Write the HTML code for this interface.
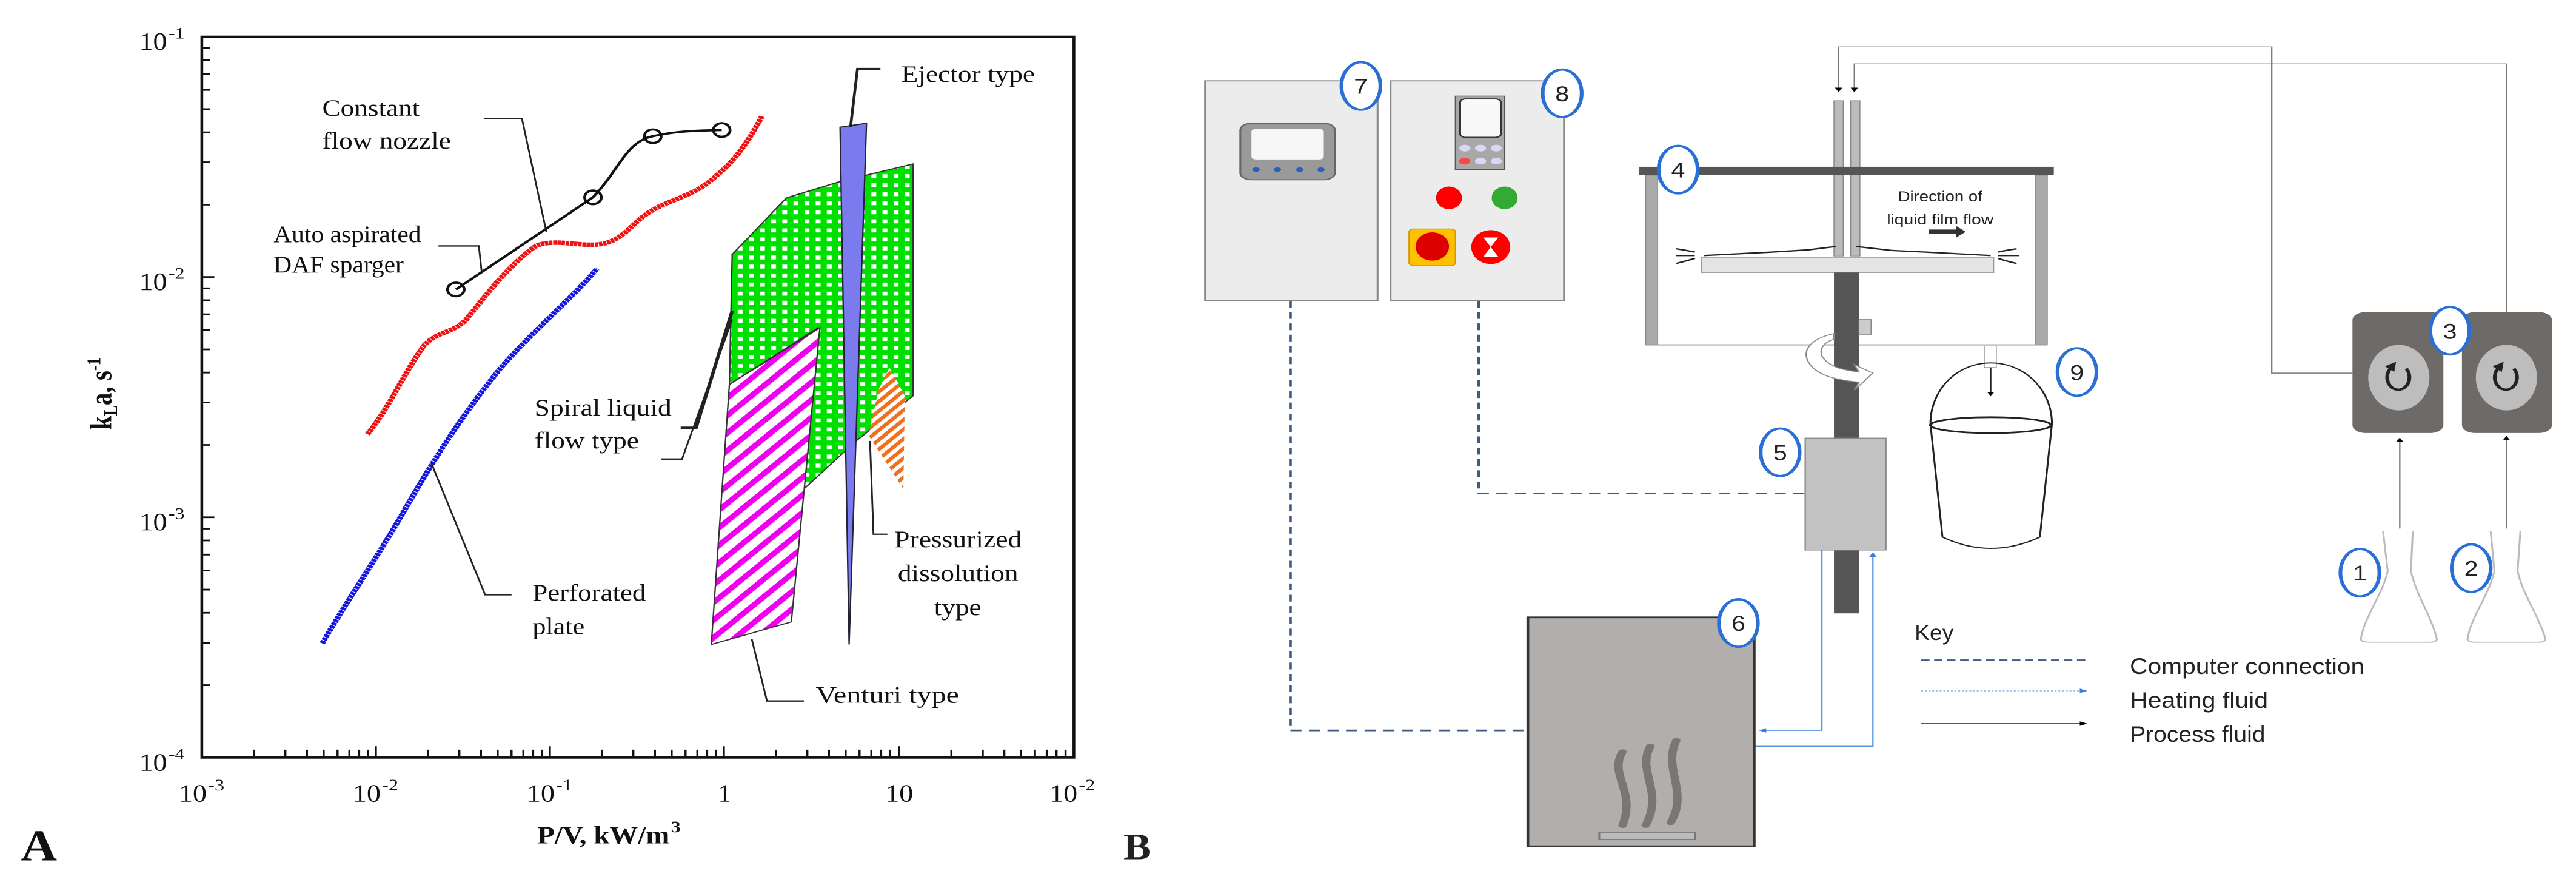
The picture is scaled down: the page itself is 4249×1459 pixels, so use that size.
<!DOCTYPE html>
<html><head><meta charset="utf-8"><style>html,body{margin:0;padding:0;background:#fff}svg{display:block}</style></head>
<body>
<svg width="4249" height="1459" viewBox="0 0 4249 1459" xmlns="http://www.w3.org/2000/svg">
<defs>
<pattern id="gd" width="16" height="16" patternUnits="userSpaceOnUse"><rect width="16" height="16" fill="#00e000"/><rect x="4" y="4" width="7" height="7" fill="#fff"/></pattern>
<pattern id="mg" width="22" height="22" patternUnits="userSpaceOnUse" patternTransform="rotate(45)"><rect width="22" height="22" fill="#fff"/><rect width="9" height="22" fill="#ee00ee"/></pattern>
<pattern id="og" width="12" height="12" patternUnits="userSpaceOnUse" patternTransform="rotate(45)"><rect width="12" height="12" fill="#fff"/><rect width="6" height="12" fill="#f07020"/></pattern>
<marker id="ak" markerWidth="8" markerHeight="8" refX="7" refY="4" orient="auto" markerUnits="userSpaceOnUse"><path d="M0,0 L8,4 L0,8z" fill="#000"/></marker>
<marker id="ab" markerWidth="8" markerHeight="8" refX="7" refY="4" orient="auto" markerUnits="userSpaceOnUse"><path d="M0,0 L8,4 L0,8z" fill="#3a7fd8"/></marker>
</defs>
<rect width="4249" height="1459" fill="#fff"/>

<!-- PANEL A -->
<g transform="scale(1.148,0.932)" font-family="Liberation Serif, serif" fill="#111">
<rect x="290" y="65" width="1253" height="1275" fill="none" stroke="#111" stroke-width="4"/>
<path stroke="#111" stroke-width="3" fill="none" d="M290,490 h18 M290,915 h18
M290,1212h12M290,1137h12M290,1084h12M290,1043h12M290,1009h12M290,981h12M290,956h12M290,935h12
M290,787h12M290,712h12M290,659h12M290,618h12M290,584h12M290,556h12M290,531h12M290,510h12
M290,362h12M290,287h12M290,234h12M290,193h12M290,159h12M290,131h12M290,106h12M290,85h12
M540,1340v-20M790,1340v-20M1040,1340v-20M1292,1340v-20
M365,1340v-14M410,1340v-14M441,1340v-14M465,1340v-14M485,1340v-14M502,1340v-14M516,1340v-14M529,1340v-14
M615,1340v-14M660,1340v-14M691,1340v-14M715,1340v-14M735,1340v-14M752,1340v-14M766,1340v-14M779,1340v-14
M865,1340v-14M910,1340v-14M941,1340v-14M965,1340v-14M985,1340v-14M1002,1340v-14M1016,1340v-14M1029,1340v-14
M1115,1340v-14M1160,1340v-14M1191,1340v-14M1215,1340v-14M1235,1340v-14M1252,1340v-14M1266,1340v-14M1279,1340v-14
M1367,1340v-14M1412,1340v-14M1443,1340v-14M1467,1340v-14M1487,1340v-14M1504,1340v-14M1518,1340v-14M1531,1340v-14"/>
<g font-size="44">
<text x="200" y="88" textLength="40" lengthAdjust="spacingAndGlyphs">10</text><text x="242" y="68" font-size="28">-1</text>
<text x="200" y="513" textLength="40" lengthAdjust="spacingAndGlyphs">10</text><text x="242" y="493" font-size="28">-2</text>
<text x="200" y="938" textLength="40" lengthAdjust="spacingAndGlyphs">10</text><text x="242" y="918" font-size="28">-3</text>
<text x="200" y="1363" textLength="40" lengthAdjust="spacingAndGlyphs">10</text><text x="242" y="1343" font-size="28">-4</text>
<text x="257" y="1418" textLength="40" lengthAdjust="spacingAndGlyphs">10</text><text x="299" y="1398" font-size="28">-3</text>
<text x="507" y="1418" textLength="40" lengthAdjust="spacingAndGlyphs">10</text><text x="549" y="1398" font-size="28">-2</text>
<text x="757" y="1418" textLength="40" lengthAdjust="spacingAndGlyphs">10</text><text x="799" y="1398" font-size="28">-1</text>
<text x="1032" y="1418" textLength="18" lengthAdjust="spacingAndGlyphs">1</text>
<text x="1272" y="1418" textLength="40" lengthAdjust="spacingAndGlyphs">10</text>
<text x="1508" y="1418" textLength="40" lengthAdjust="spacingAndGlyphs">10</text><text x="1550" y="1398" font-size="28">-2</text>
</g>
<text x="772" y="1492" font-size="44" font-weight="bold" textLength="190" lengthAdjust="spacingAndGlyphs">P/V, kW/m</text><text x="964" y="1472" font-size="28" font-weight="bold">3</text>
<g transform="translate(160,760) rotate(-90)"><text x="0" y="0" font-size="44" font-weight="bold">k<tspan font-size="28" dy="8">L</tspan><tspan dy="-8">a, s</tspan><tspan font-size="28" dy="-16">-1</tspan></text></g>
<text x="30" y="1522" font-size="78" font-weight="bold" textLength="52" lengthAdjust="spacingAndGlyphs">A</text>

<polygon points="1052,450 1130,350 1210,320 1312,290 1312,700 1230,780 1155,865 1175,580 1048,680" fill="url(#gd)" stroke="#333" stroke-width="2"/>
<polygon points="1048,680 1178,580 1137,1100 1022,1140" fill="url(#mg)" stroke="#333" stroke-width="2"/>
<polygon points="1278,650 1300,700 1298,865 1248,770 1262,690" fill="url(#og)"/>
<polygon points="1207,225 1245,218 1220,1140" fill="#7b7bee" stroke="#223" stroke-width="2"/>
<path d="M528,768 C560,720 580,660 610,610 C630,585 650,590 670,565 C700,520 730,470 770,435 C800,420 840,440 870,430 C900,420 910,390 940,370 C970,350 1000,345 1030,310 C1060,280 1080,240 1095,205" fill="none" stroke="#f01010" stroke-width="8" stroke-dasharray="5 1"/>
<path d="M463,1138 C500,1060 540,990 580,905 C620,820 660,740 720,650 C770,580 820,530 858,475" fill="none" stroke="#1515e0" stroke-width="8" stroke-dasharray="5 1"/>
<path d="M655,512 L852,349 C890,300 900,250 938,241 C970,232 1000,231 1037,230" fill="none" stroke="#111" stroke-width="4"/>
<g fill="none" stroke="#111" stroke-width="4"><circle cx="655" cy="512" r="12"/><circle cx="852" cy="349" r="12"/><circle cx="938" cy="241" r="12"/><circle cx="1037" cy="230" r="12"/></g>
<g fill="none" stroke="#222" stroke-width="2.5">
<path d="M695,210 H750 L785,410"/>
<path d="M630,435 H688 L692,480"/>
<path d="M950,812 H980 L1052,565"/>
<path d="M978,757 H1000 L1052,550" stroke-width="5"/>
<path d="M620,820 L697,1052 H735"/>
<path d="M1080,1130 L1102,1240 H1155"/>
<path d="M1250,780 L1255,945 H1275"/>
<path d="M1222,225 L1232,122 H1265" stroke-width="4"/>
</g>
<g font-size="42">
<text x="463" y="205" textLength="140" lengthAdjust="spacingAndGlyphs">Constant</text>
<text x="463" y="263" textLength="185" lengthAdjust="spacingAndGlyphs">flow nozzle</text>
<text x="393" y="428" textLength="212" lengthAdjust="spacingAndGlyphs">Auto aspirated</text>
<text x="393" y="482" textLength="187" lengthAdjust="spacingAndGlyphs">DAF sparger</text>
<text x="768" y="735" textLength="197" lengthAdjust="spacingAndGlyphs">Spiral liquid</text>
<text x="768" y="793" textLength="150" lengthAdjust="spacingAndGlyphs">flow type</text>
<text x="765" y="1062" textLength="163" lengthAdjust="spacingAndGlyphs">Perforated</text>
<text x="765" y="1122" textLength="75" lengthAdjust="spacingAndGlyphs">plate</text>
<text x="1172" y="1243" textLength="206" lengthAdjust="spacingAndGlyphs">Venturi type</text>
<text x="1285" y="968" textLength="183" lengthAdjust="spacingAndGlyphs">Pressurized</text>
<text x="1290" y="1028" textLength="173" lengthAdjust="spacingAndGlyphs">dissolution</text>
<text x="1342" y="1088" textLength="68" lengthAdjust="spacingAndGlyphs">type</text>
<text x="1295" y="145" textLength="192" lengthAdjust="spacingAndGlyphs">Ejector type</text>
</g>
</g>

<!-- PANEL B -->
<g transform="translate(1850,0) scale(1.53,0.932)" font-family="Liberation Sans, sans-serif" fill="#222">
<text x="2" y="1520" font-family="Liberation Serif, serif" font-size="66" font-weight="bold" textLength="30" lengthAdjust="spacingAndGlyphs">B</text>
<g fill="none" stroke="#777" stroke-width="1.5">
<path d="M1327,660 H1240 V83 H773 V162" marker-end="url(#ak)"/>
<path d="M1493,552 V113 H790 V162" marker-end="url(#ak)"/>
<path d="M1378,935 V775" marker-end="url(#ak)"/>
<path d="M1493,935 V772" marker-end="url(#ak)"/>
</g>
<g fill="none" stroke="#3e5a82" stroke-width="3" stroke-dasharray="12 8">
<path d="M182,532 V1292 H438"/>
<path d="M385,532 V873 H737"/>
</g>
<g fill="none" stroke="#5a95e0" stroke-width="1.5">
<path d="M755,973 V1292 H688" marker-end="url(#ab)"/>
<path d="M682,1320 H810 V978" marker-end="url(#ab)"/>
</g>
<rect x="90" y="143" width="186" height="389" fill="#ececec" stroke="#888" stroke-width="2"/>
<rect x="128" y="218" width="102" height="100" rx="12" fill="#9a9a9a" stroke="#666" stroke-width="2"/>
<rect x="140" y="228" width="78" height="54" rx="5" fill="#f6f6f6"/>
<g fill="#2a5fc0"><circle cx="145" cy="300" r="4"/><circle cx="168" cy="300" r="4"/><circle cx="192" cy="300" r="4"/><circle cx="215" cy="300" r="4"/></g>
<rect x="290" y="143" width="187" height="389" fill="#ececec" stroke="#888" stroke-width="2"/>
<rect x="360" y="170" width="53" height="130" fill="#a8a8a8" stroke="#555" stroke-width="1.5"/>
<rect x="365" y="175" width="44" height="68" rx="6" fill="#f8f8f8" stroke="#333" stroke-width="2"/>
<g fill="#d8d8f4"><ellipse cx="370" cy="262" rx="6" ry="6"/><ellipse cx="387" cy="262" rx="6" ry="6"/><ellipse cx="404" cy="262" rx="6" ry="6"/><ellipse cx="370" cy="285" rx="6" ry="6" fill="#f44"/><ellipse cx="387" cy="285" rx="6" ry="6"/><ellipse cx="404" cy="285" rx="6" ry="6"/></g>
<ellipse cx="353" cy="350" rx="14" ry="20" fill="#f00"/>
<ellipse cx="413" cy="350" rx="14" ry="20" fill="#3a3"/>
<rect x="310" y="405" width="50" height="65" rx="5" fill="#ffc000" stroke="#c90" stroke-width="1.5"/>
<ellipse cx="335" cy="436" rx="18" ry="25" fill="#d00"/>
<ellipse cx="398" cy="437" rx="21" ry="30" fill="#f00"/>
<path d="M390,420 H406 L398,437 L406,454 H390 L398,437Z" fill="#fff"/>
<rect x="768" y="178" width="10" height="275" fill="#bbb" stroke="#888" stroke-width="1"/>
<rect x="786" y="178" width="10" height="275" fill="#bbb" stroke="#888" stroke-width="1"/>
<rect x="558" y="295" width="447" height="15" fill="#555"/>
<rect x="565" y="310" width="13" height="300" fill="#aaa" stroke="#888"/>
<rect x="985" y="310" width="13" height="300" fill="#aaa" stroke="#888"/>
<line x1="565" y1="610" x2="998" y2="610" stroke="#999" stroke-width="2"/>
<rect x="625" y="455" width="315" height="27" fill="#e4e4e4" stroke="#999" stroke-width="1.5"/>
<path d="M628,452 L700,446 L740,442 L770,436 M792,436 L830,443 L880,447 L937,452" fill="none" stroke="#222" stroke-width="2.5"/>
<path d="M598,440 Q610,443 618,446 M598,452 H618 M598,466 Q610,461 618,457 M965,440 Q952,443 945,446 M968,452 H945 M965,466 Q952,461 945,457" fill="none" stroke="#222" stroke-width="2.5"/>
<rect x="768" y="482" width="27" height="603" fill="#555"/>
<rect x="795" y="565" width="13" height="27" fill="#ccc" stroke="#888"/>
<path d="M768,590 C740,600 730,625 745,650 C755,665 770,672 795,676 L790,690 L810,660 L790,645 L795,658 C775,654 762,648 755,630 C752,615 758,605 768,600Z" fill="#fff" stroke="#888" stroke-width="1.5"/>
<text x="837" y="356" font-size="26" textLength="91" lengthAdjust="spacingAndGlyphs">Direction of</text>
<text x="825" y="397" font-size="26" textLength="115" lengthAdjust="spacingAndGlyphs">liquid film flow</text>
<path d="M870,406 H900 V400 L910,410 L900,420 V414 H870Z" fill="#333"/>
<rect x="930" y="612" width="13" height="38" fill="#fff" stroke="#888"/>
<path d="M872,750 C872,690 900,642 937,642 C974,642 1003,690 1003,750" fill="none" stroke="#222" stroke-width="2"/>
<path d="M872,750 L885,950 Q937,990 990,950 L1003,750" fill="#fff" stroke="#222" stroke-width="2"/>
<ellipse cx="937" cy="752" rx="65" ry="14" fill="none" stroke="#222" stroke-width="3"/>
<line x1="937" y1="650" x2="937" y2="700" stroke="#222" stroke-width="1.5" marker-end="url(#ak)"/>
<rect x="737" y="775" width="87" height="198" fill="#c2c2c2" stroke="#888" stroke-width="1.5"/>
<rect x="438" y="1092" width="244" height="405" fill="#b1aeab" stroke="#333" stroke-width="3"/>
<g fill="none" stroke="#777" stroke-width="9" stroke-linecap="round">
<path d="M540,1330 C525,1370 555,1400 540,1460"/>
<path d="M570,1320 C555,1365 585,1400 565,1460"/>
<path d="M598,1310 C583,1360 612,1400 592,1455"/>
</g>
<rect x="515" y="1472" width="103" height="13" fill="#bbb" stroke="#777" stroke-width="2"/>
<rect x="1327" y="552" width="98" height="214" rx="14" fill="#6d6a68"/>
<rect x="1445" y="552" width="97" height="214" rx="14" fill="#6d6a68"/>
<ellipse cx="1377" cy="668" rx="33" ry="58" fill="#bdbdbd"/>
<ellipse cx="1493" cy="668" rx="33" ry="58" fill="#bdbdbd"/>
<g fill="none" stroke="#222" stroke-width="4">
<path d="M1369,650 A12,22 0 1 0 1385,652"/>
<path d="M1485,650 A12,22 0 1 0 1501,652"/>
</g>
<path d="M1362,648 L1374,640 L1372,658Z M1478,648 L1490,640 L1488,658Z" fill="#222"/>
<g fill="none" stroke="#bbb" stroke-width="2">
<path d="M1360,940 L1365,1010 C1360,1050 1340,1090 1336,1130 Q1336,1136 1345,1136 H1410 Q1418,1136 1418,1130 C1412,1090 1395,1050 1390,1010 L1392,940"/>
<path d="M1476,940 L1480,1010 C1475,1050 1455,1090 1451,1130 Q1451,1136 1460,1136 H1527 Q1535,1136 1535,1130 C1528,1090 1510,1050 1505,1010 L1508,940"/>
</g>
<g fill="#fff" stroke="#2a6fd6" stroke-width="4">
<ellipse cx="258" cy="152" rx="21" ry="42"/>
<ellipse cx="475" cy="165" rx="21" ry="42"/>
<ellipse cx="600" cy="300" rx="21" ry="42"/>
<ellipse cx="710" cy="800" rx="21" ry="42"/>
<ellipse cx="665" cy="1102" rx="21" ry="42"/>
<ellipse cx="1030" cy="658" rx="21" ry="42"/>
<ellipse cx="1432" cy="585" rx="21" ry="42"/>
<ellipse cx="1335" cy="1013" rx="21" ry="42"/>
<ellipse cx="1455" cy="1005" rx="21" ry="42"/>
</g>
<g font-size="38" text-anchor="middle" fill="#222">
<text x="258" y="166" textLength="15" lengthAdjust="spacingAndGlyphs">7</text>
<text x="475" y="179" textLength="15" lengthAdjust="spacingAndGlyphs">8</text>
<text x="600" y="314" textLength="15" lengthAdjust="spacingAndGlyphs">4</text>
<text x="710" y="814" textLength="15" lengthAdjust="spacingAndGlyphs">5</text>
<text x="665" y="1116" textLength="15" lengthAdjust="spacingAndGlyphs">6</text>
<text x="1030" y="672" textLength="15" lengthAdjust="spacingAndGlyphs">9</text>
<text x="1432" y="599" textLength="15" lengthAdjust="spacingAndGlyphs">3</text>
<text x="1335" y="1027" textLength="15" lengthAdjust="spacingAndGlyphs">1</text>
<text x="1455" y="1019" textLength="15" lengthAdjust="spacingAndGlyphs">2</text>
</g>
<text x="855" y="1132" font-size="38" textLength="42" lengthAdjust="spacingAndGlyphs">Key</text>
<line x1="862" y1="1168" x2="1043" y2="1168" stroke="#3e5a82" stroke-width="3" stroke-dasharray="9 5"/>
<line x1="862" y1="1222" x2="1040" y2="1222" stroke="#7aaaf0" stroke-width="1.5" stroke-dasharray="2 2" marker-end="url(#ab)"/>
<line x1="862" y1="1280" x2="1040" y2="1280" stroke="#222" stroke-width="1.5" marker-end="url(#ak)"/>
<text x="1087" y="1192" font-size="40" textLength="253" lengthAdjust="spacingAndGlyphs">Computer connection</text>
<text x="1087" y="1252" font-size="40" textLength="149" lengthAdjust="spacingAndGlyphs">Heating fluid</text>
<text x="1087" y="1312" font-size="40" textLength="146" lengthAdjust="spacingAndGlyphs">Process fluid</text>
</g>
</svg>
</body></html>
